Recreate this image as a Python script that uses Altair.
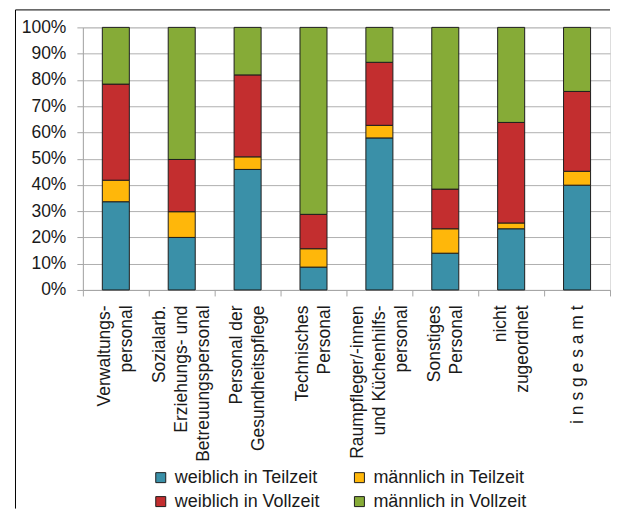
import altair as alt
import pandas as pd

categories = [
    "Verwaltungs-\npersonal",
    "Sozialarb.\nErziehungs- und\nBetreuungspersonal",
    "Personal der\nGesundheitspflege",
    "Technisches\nPersonal",
    "Raumpfleger/-innen\nund Küchenhilfs-\npersonal",
    "Sonstiges\nPersonal",
    "nicht\nzugeordnet",
    "i n s g e s a m t",
]
series = [
    "weiblich in Teilzeit",
    "männlich in Teilzeit",
    "weiblich in Vollzeit",
    "männlich in Vollzeit",
]
colors = ["#3A90A8", "#FFB70A", "#C32E2F", "#86AB37"]

weiblich_teilzeit = [33.6, 20.0, 45.9, 8.7, 57.9, 14.0, 23.3, 39.9]
maennlich_teilzeit = [8.2, 9.8, 4.8, 7.0, 4.8, 9.3, 2.2, 5.3]
weiblich_vollzeit = [36.6, 19.9, 31.2, 13.1, 24.0, 15.1, 38.3, 30.4]
maennlich_vollzeit = [21.6, 50.3, 18.1, 71.2, 13.3, 61.6, 36.2, 24.4]

values = [weiblich_teilzeit, maennlich_teilzeit, weiblich_vollzeit, maennlich_vollzeit]
rows = []
for si, (s, vals) in enumerate(zip(series, values)):
    for cat, v in zip(categories, vals):
        rows.append({"Kategorie": cat, "Gruppe": s, "Anteil": v / 100.0, "Reihenfolge": si})
df = pd.DataFrame(rows)

W = 528
H = 263
FONT = "Liberation Sans"
LH = 22

n_lines = "length(split(datum.value, '\\n'))"
label_offset = {
    "condition": [
        {"test": f"{n_lines} == 3", "value": -LH},
        {"test": f"{n_lines} == 2", "value": -LH / 2},
    ],
    "value": 0,
}

bars = alt.Chart(df).mark_bar(
    stroke="#1e1e1e", strokeWidth=1, width=alt.RelativeBandSize(0.41)
).encode(
    x=alt.X(
        "Kategorie:N",
        sort=categories,
        scale=alt.Scale(paddingInner=0, paddingOuter=0),
        axis=alt.Axis(
            title=None,
            labelAngle=270,
            labelAlign="right",
            labelBaseline="middle",
            labelExpr="split(datum.label, '\\n')",
            labelLineHeight=LH,
            labelFontSize=17.5,
            labelPadding=9,
            labelOffset=label_offset,
            labelColor="#1a1a1a",
            labelFont=FONT,
            tickBand="extent",
            tickSize=6,
            tickColor="#A6A6A6",
            domainColor="#A6A6A6",
            labelLimit=300,
        ),
    ),
    y=alt.Y(
        "Anteil:Q",
        stack="zero",
        scale=alt.Scale(domain=[0, 1], nice=False),
        axis=alt.Axis(
            title=None,
            format=".0%",
            values=[i / 10 for i in range(11)],
            labelFontSize=17.5,
            labelFont=FONT,
            labelColor="#1a1a1a",
            labelPadding=11,
            tickSize=6,
            tickColor="#A6A6A6",
            domainColor="#A6A6A6",
            gridColor="#B0B0B0",
            gridWidth=1,
        ),
    ),
    color=alt.Color(
        "Gruppe:N",
        sort=series,
        scale=alt.Scale(domain=series, range=colors),
        legend=alt.Legend(
            title=None,
            orient="none",
            legendX=69,
            legendY=442,
            columns=2,
            direction="horizontal",
            symbolType="square",
            symbolSize=100,
            symbolStrokeColor="#1e1e1e",
            symbolStrokeWidth=1,
            labelFontSize=18,
            labelFont=FONT,
            labelColor="#1a1a1a",
            labelOffset=5,
            columnPadding=30,
            rowPadding=6,
            labelLimit=300,
        ),
    ),
    order=alt.Order("Reihenfolge:Q", sort="ascending"),
)

anchor = pd.DataFrame({"a": [0]})
frame_top = alt.Chart(anchor).mark_rule(color="#000000", strokeWidth=1).encode(
    x=alt.value(-67.5), x2=alt.value(W), y=alt.value(-17.5)
)
frame_left = alt.Chart(anchor).mark_rule(color="#000000", strokeWidth=1).encode(
    x=alt.value(-67.5), y=alt.value(-17.5), y2=alt.value(482)
)

chart = alt.layer(frame_top, frame_left, bars).properties(
    width=W,
    height=H,
    padding={"left": 7, "top": 1, "right": 0, "bottom": 0},
).configure_view(stroke=None).configure(background="white")

chart.save("out.html", embed_options={"renderer": "svg", "actions": False})
